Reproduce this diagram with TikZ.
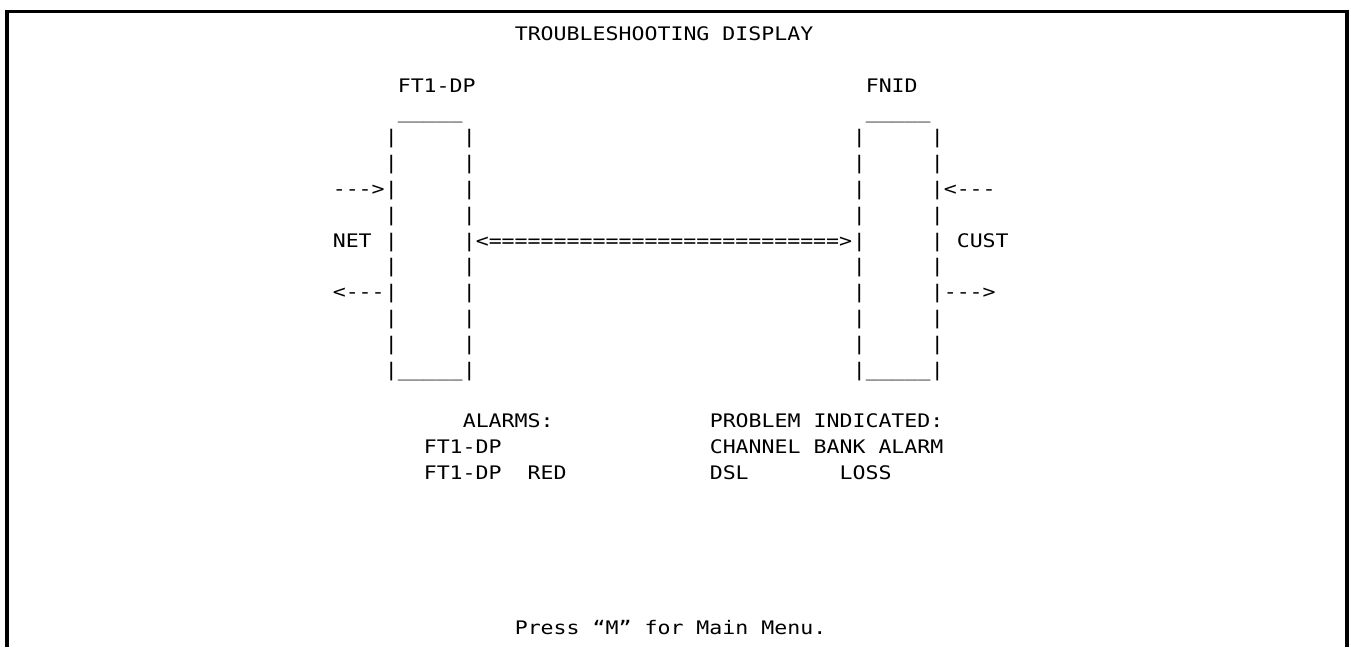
\documentclass[tikz,border=0pt]{standalone}
\usepackage{fontspec}
\usepackage{tikz}
\newfontfamily\pantalla[FakeStretch=1.155]{DejaVu Sans Mono}
\newcommand\gap[1]{\hspace*{\dimexpr #1\fontcharwd\font`M\relax}}
\newcommand\pos[2]{({7.5+13*(#1)},{143.8+25.8*(#2)})}

\begin{document}
\begin{tikzpicture}[x=0.75pt,y=-0.75pt,
  txt/.style={font=\pantalla\fontsize{14}{16}\selectfont, inner sep=0pt, anchor=base west}]

\useasboundingbox (0,0) rectangle (1351,647);

% Marco de la pantalla
\draw[line width=2.4pt] (7,647) -- (7,11.5) -- (1347,11.5) -- (1347,647);

% Titulo
\node[txt] (titulo) at \pos{39}{-4} {TROUBLESHOOTING DISPLAY};

% Equipos
\node[txt] (ft1) at \pos{30}{-2} {FT1-DP};
\node[txt] (fnid) at \pos{66}{-2} {FNID};

% Cajas
\foreach \c in {30,66} {
  \node[txt] at \pos{\c}{-1} {\_\_\_\_\_};
  \node[txt] at \pos{\c}{9} {\_\_\_\_\_};
}
\foreach \r in {0,...,9} {
  \foreach \c in {29,35,65,71}
    \node[txt] at \pos{\c}{\r} {|};
}

% Flechas
\node[txt] (netin) at \pos{25}{2} {--->};
\node[txt] (net) at \pos{25}{4} {NET};
\node[txt] (netout) at \pos{25}{6} {<---};
\node[txt] (enlace) at \pos{36}{4} {<===========================>};
\node[txt] (custin) at \pos{72}{2} {<---};
\node[txt] (cust) at \pos{73}{4} {CUST};
\node[txt] (custout) at \pos{72}{6} {--->};

% Alarmas
\node[txt] (alarmas) at \pos{35}{11} {ALARMS:};
\node[txt] (al1) at \pos{32}{12} {FT1-DP};
\node[txt] (al2) at \pos{32}{13} {FT1-DP\gap{2}RED};
\node[txt] (problema) at \pos{54}{11} {PROBLEM\gap{1}INDICATED:};
\node[txt] (pr1) at \pos{54}{12} {CHANNEL\gap{1}BANK\gap{1}ALARM};
\node[txt] (pr2) at \pos{54}{13} {DSL\gap{7}LOSS};

% Texto inferior
\node[txt] (menu) at \pos{39}{19} {Press\gap{1}“M”\gap{1}for\gap{1}Main\gap{1}Menu.};

\end{tikzpicture}
\end{document}
